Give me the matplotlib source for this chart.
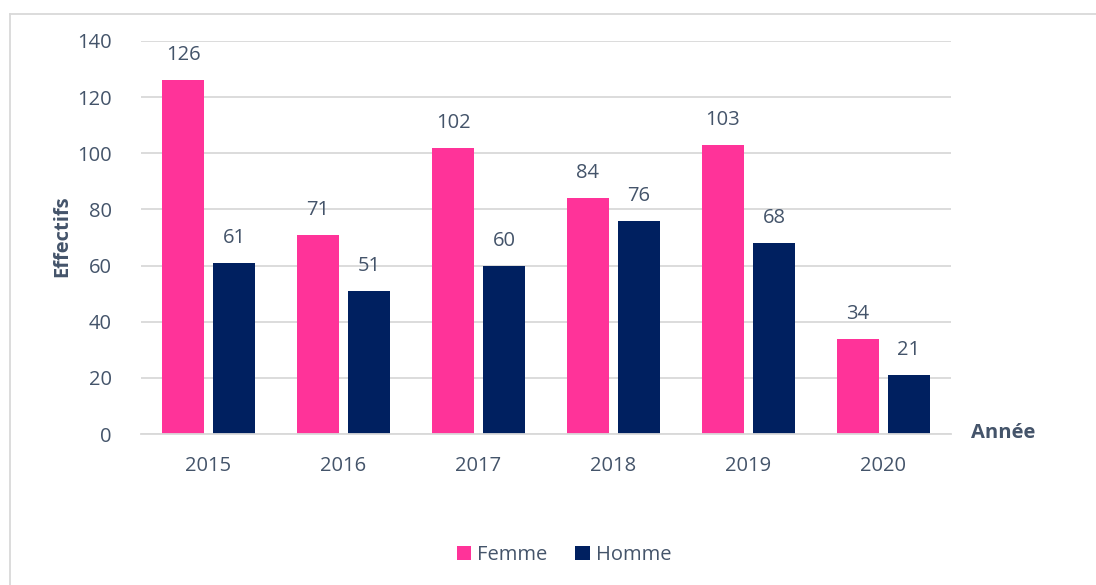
import numpy as np
import matplotlib.pyplot as plt
from matplotlib.lines import Line2D

# données
annees = ["2015", "2016", "2017", "2018", "2019", "2020"]
femme = [126, 71, 102, 84, 103, 34]
homme = [61, 51, 60, 76, 68, 21]

c_femme = "#FF3399"
c_homme = "#002060"
c_texte = "#44546A"
c_grille = "#D9D9D9"
fs = 14.5

plt.rcParams["font.family"] = ["Open Sans", "DejaVu Sans"]

fig = plt.figure(figsize=(10.96, 5.85), dpi=100)
ax = fig.add_axes([141 / 1096, 1 - 434 / 585, 810 / 1096, 393 / 585])

x = np.arange(len(annees))
largeur = 0.31
decal = 0.189
b1 = ax.bar(x - decal, femme, largeur, color=c_femme, label="Femme", zorder=3)
b2 = ax.bar(x + decal, homme, largeur, color=c_homme, label="Homme", zorder=3)

# étiquettes des valeurs
for barres in (b1, b2):
    for b in barres:
        ax.annotate(f"{int(b.get_height())}", (b.get_x() + b.get_width() / 2, b.get_height()),
                    xytext=(0, 18), textcoords="offset points", ha="center", va="center",
                    fontsize=fs, color=c_texte)

ax.set_xlim(-0.5, len(annees) - 0.5)
ax.set_ylim(0, 140)
ax.set_yticks(range(0, 141, 20))
ax.set_xticks(x)
ax.set_xticklabels(annees)
ax.yaxis.grid(True, color=c_grille, lw=1.3, zorder=0)
ax.tick_params(axis="both", length=0, labelsize=fs, labelcolor=c_texte)
ax.tick_params(axis="y", pad=21)
ax.tick_params(axis="x", pad=16)
for s in ["top", "right", "left"]:
    ax.spines[s].set_visible(False)
ax.spines["bottom"].set_color(c_grille)
ax.spines["bottom"].set_linewidth(1.3)
ax.spines["bottom"].set_zorder(4)

fig.text(62 / 1096, 1 - 236 / 585, "Effectifs", rotation=90, ha="center", va="center",
         fontsize=fs, fontweight="bold", color=c_texte)
fig.text(1003 / 1096, 1 - 433 / 585, "Année", ha="center", va="center",
         fontsize=fs, fontweight="bold", color=c_texte)

fig.legend(handles=[b1, b2], loc="center", bbox_to_anchor=(564 / 1096, 1 - 555 / 585),
           ncol=2, frameon=False, fontsize=fs, labelcolor=c_texte,
           handlelength=0.7, handleheight=0.7, handletextpad=0.3, columnspacing=1.4)

# cadre du graphique
fig.add_artist(Line2D([10 / 1096, 10 / 1096], [0, 1 - 14 / 585], color=c_grille, lw=1.3))
fig.add_artist(Line2D([10 / 1096, 1], [1 - 14 / 585, 1 - 14 / 585], color=c_grille, lw=1.3))

fig.savefig("out.png", dpi=100)
